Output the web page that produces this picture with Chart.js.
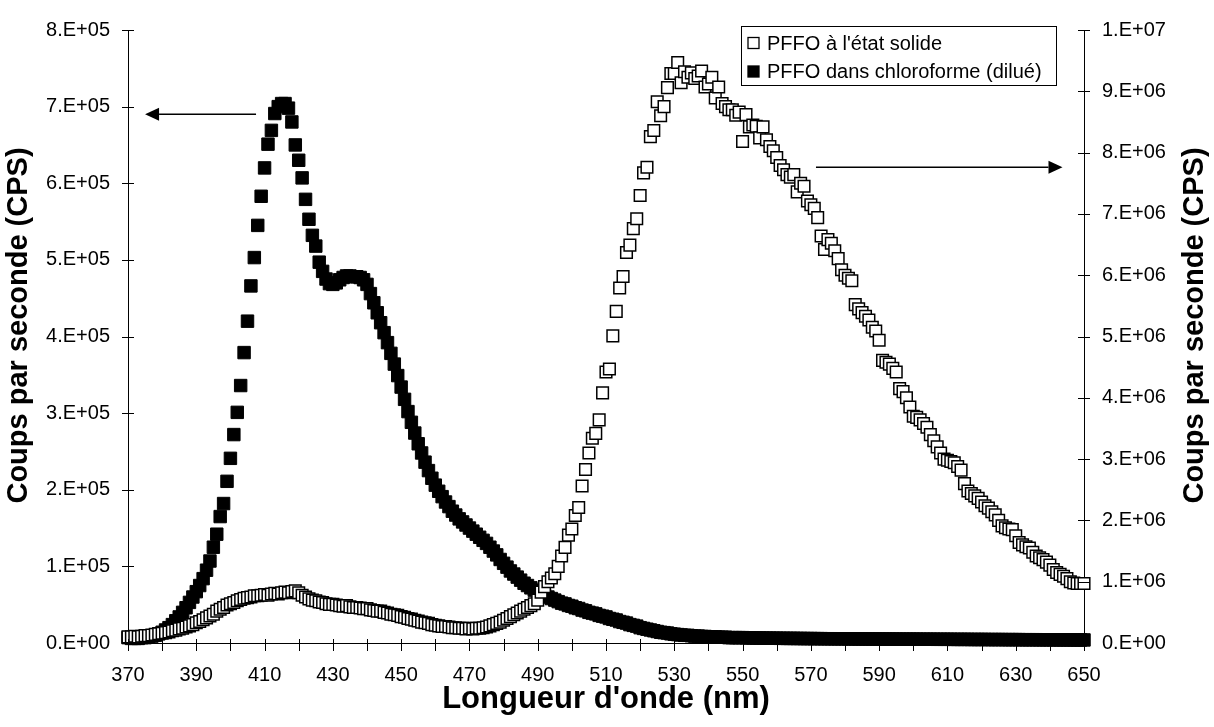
<!DOCTYPE html>
<html><head><meta charset="utf-8">
<script src="https://cdn.jsdelivr.net/npm/chart.js@4/dist/chart.umd.min.js"></script>
<style>html,body{margin:0;padding:0;background:#fff}canvas{display:block}</style>
</head><body>
<canvas id="c" width="1214" height="727" style="width:1214px;height:727px"></canvas>
<script>
// ---------- data ----------
const wavelengths = [370,371,372,373,374,375,376,377,378,379,380,381,382,383,384,385,386,387,388,389,390,391,392,393,394,395,396,397,398,399,400,401,402,403,404,405,406,407,408,409,410,411,412,413,414,415,416,417,418,419,420,421,422,423,424,425,426,427,428,429,430,431,432,433,434,435,436,437,438,439,440,441,442,443,444,445,446,447,448,449,450,451,452,453,454,455,456,457,458,459,460,461,462,463,464,465,466,467,468,469,470,471,472,473,474,475,476,477,478,479,480,481,482,483,484,485,486,487,488,489,490,491,492,493,494,495,496,497,498,499,500,501,502,503,504,505,506,507,508,509,510,511,512,513,514,515,516,517,518,519,520,521,522,523,524,525,526,527,528,529,530,531,532,533,534,535,536,537,538,539,540,541,542,543,544,545,546,547,548,549,550,551,552,553,554,555,556,557,558,559,560,561,562,563,564,565,566,567,568,569,570,571,572,573,574,575,576,577,578,579,580,581,582,583,584,585,586,587,588,589,590,591,592,593,594,595,596,597,598,599,600,601,602,603,604,605,606,607,608,609,610,611,612,613,614,615,616,617,618,619,620,621,622,623,624,625,626,627,628,629,630,631,632,633,634,635,636,637,638,639,640,641,642,643,644,645,646,647,648,649,650];

// PFFO à l'état solide (right axis, CPS)
const solidCps = [
0.10e6,0.10e6,0.11e6,0.10e6,0.11e6,0.12e6,0.12e6,0.13e6,0.14e6,0.15e6,
0.16e6,0.17e6,0.18e6,0.20e6,0.21e6,0.23e6,0.24e6,0.26e6,0.28e6,0.30e6,
0.33e6,0.35e6,0.38e6,0.41e6,0.44e6,0.47e6,0.52e6,0.55e6,0.58e6,0.62e6,
0.64e6,0.66e6,0.69e6,0.71e6,0.73e6,0.74e6,0.75e6,0.77e6,0.77e6,0.78e6,
0.79e6,0.78e6,0.80e6,0.81e6,0.80e6,0.82e6,0.83e6,0.82e6,0.84e6,0.85e6,
0.82e6,0.78e6,0.75e6,0.72e6,0.70e6,0.69e6,0.67e6,0.66e6,0.64e6,0.63e6,
0.63e6,0.62e6,0.61e6,0.60e6,0.61e6,0.59e6,0.58e6,0.58e6,0.57e6,0.56e6,
0.56e6,0.54e6,0.53e6,0.52e6,0.52e6,0.50e6,0.49e6,0.47e6,0.46e6,0.45e6,
0.43e6,0.42e6,0.40e6,0.39e6,0.37e6,0.36e6,0.34e6,0.33e6,0.32e6,0.30e6,
0.29e6,0.28e6,0.27e6,0.27e6,0.26e6,0.25e6,0.25e6,0.24e6,0.24e6,0.23e6,
0.24e6,0.23e6,0.24e6,0.24e6,0.25e6,0.26e6,0.28e6,0.30e6,0.32e6,0.34e6,
0.37e6,0.40e6,0.43e6,0.46e6,0.49e6,0.52e6,0.55e6,0.58e6,0.61e6,0.64e6,
0.70e6,0.83e6,0.92e6,1.00e6,1.06e6,1.13e6,1.25e6,1.42e6,1.56e6,1.76e6,
1.86e6,2.08e6,2.21e6,2.56e6,2.83e6,3.10e6,3.34e6,3.42e6,3.64e6,4.08e6,
4.42e6,4.47e6,5.01e6,5.41e6,5.79e6,5.98e6,6.37e6,6.49e6,6.76e6,6.92e6,
7.30e6,7.67e6,7.76e6,8.26e6,8.36e6,8.83e6,8.60e6,8.75e6,9.06e6,9.29e6,
9.29e6,9.47e6,9.14e6,9.32e6,9.23e6,9.30e6,9.21e6,9.25e6,9.33e6,9.07e6,
9.12e6,9.23e6,8.89e6,9.07e6,8.80e6,8.75e6,8.70e6,8.70e6,8.61e6,8.66e6,
8.18e6,8.62e6,8.42e6,8.45e6,8.43e6,8.24e6,8.42e6,8.21e6,8.10e6,8.03e6,
7.92e6,7.79e6,7.72e6,7.64e6,7.60e6,7.64e6,7.36e6,7.50e6,7.45e6,7.21e6,
7.15e6,7.09e6,6.94e6,6.64e6,6.42e6,6.58e6,6.52e6,6.40e6,6.27e6,6.09e6,
6.00e6,5.95e6,5.91e6,5.52e6,5.45e6,5.39e6,5.33e6,5.27e6,5.15e6,5.09e6,
4.94e6,4.61e6,4.58e6,4.55e6,4.48e6,4.42e6,4.15e6,4.10e6,4.00e6,3.85e6,
3.70e6,3.68e6,3.64e6,3.58e6,3.52e6,3.40e6,3.30e6,3.20e6,3.10e6,3.00e6,
2.98e6,2.96e6,2.94e6,2.88e6,2.82e6,2.60e6,2.48e6,2.44e6,2.40e6,2.36e6,
2.30e6,2.24e6,2.20e6,2.14e6,2.09e6,2.00e6,1.91e6,1.88e6,1.86e6,1.85e6,
1.75e6,1.64e6,1.60e6,1.57e6,1.55e6,1.48e6,1.42e6,1.39e6,1.36e6,1.32e6,
1.27e6,1.20e6,1.15e6,1.12e6,1.09e6,1.05e6,1.00e6,0.98e6,0.97e6,0.97e6,0.97e6];

// PFFO dans chloroforme (dilué) (left axis, CPS)
const chloroformCps = [
0.07e5,0.06e5,0.06e5,0.06e5,0.07e5,0.07e5,0.08e5,0.09e5,0.10e5,0.12e5,
0.14e5,0.17e5,0.20e5,0.24e5,0.29e5,0.34e5,0.40e5,0.46e5,0.53e5,0.60e5,
0.67e5,0.75e5,0.84e5,0.95e5,1.07e5,1.25e5,1.42e5,1.65e5,1.82e5,2.11e5,
2.41e5,2.72e5,3.01e5,3.36e5,3.79e5,4.20e5,4.66e5,5.03e5,5.45e5,5.83e5,
6.20e5,6.51e5,6.69e5,6.91e5,7.00e5,7.04e5,7.04e5,6.98e5,6.80e5,6.50e5,
6.30e5,6.07e5,5.79e5,5.53e5,5.32e5,5.18e5,4.97e5,4.85e5,4.75e5,4.69e5,
4.68e5,4.70e5,4.74e5,4.77e5,4.79e5,4.79e5,4.78e5,4.78e5,4.77e5,4.74e5,
4.68e5,4.56e5,4.44e5,4.31e5,4.18e5,4.05e5,3.92e5,3.78e5,3.64e5,3.49e5,
3.34e5,3.18e5,3.02e5,2.88e5,2.74e5,2.60e5,2.48e5,2.36e5,2.25e5,2.15e5,
2.06e5,1.98e5,1.91e5,1.84e5,1.78e5,1.72e5,1.67e5,1.62e5,1.58e5,1.54e5,
1.50e5,1.46e5,1.42e5,1.38e5,1.34e5,1.30e5,1.25e5,1.20e5,1.15e5,1.09e5,
1.04e5,0.99e5,0.94e5,0.90e5,0.86e5,0.82e5,0.78e5,0.75e5,0.72e5,0.69e5,
0.66e5,0.64e5,0.62e5,0.60e5,0.58e5,0.56e5,0.54e5,0.52e5,0.51e5,0.49e5,
0.48e5,0.46e5,0.45e5,0.43e5,0.42e5,0.40e5,0.39e5,0.38e5,0.36e5,0.35e5,
0.34e5,0.32e5,0.31e5,0.30e5,0.28e5,0.27e5,0.26e5,0.24e5,0.23e5,0.22e5,
0.20e5,0.19e5,0.18e5,0.17e5,0.16e5,0.15e5,0.14e5,0.135e5,0.13e5,0.12e5,
0.115e5,0.11e5,0.105e5,0.10e5,0.10e5,0.095e5,0.09e5,0.09e5,0.085e5,0.085e5,
0.08e5,0.08e5,0.08e5,0.075e5,0.075e5,0.075e5,0.07e5,0.07e5,0.07e5,0.07e5,
0.07e5,0.068e5,0.067e5,0.066e5,0.065e5,0.065e5,0.064e5,0.063e5,0.063e5,0.062e5,
0.062e5,0.061e5,0.061e5,0.06e5,0.06e5,0.06e5,0.059e5,0.059e5,0.058e5,0.058e5,
0.058e5,0.057e5,0.057e5,0.057e5,0.056e5,0.056e5,0.056e5,0.055e5,0.055e5,0.055e5,
0.055e5,0.054e5,0.054e5,0.054e5,0.053e5,0.053e5,0.053e5,0.053e5,0.052e5,0.052e5,
0.052e5,0.052e5,0.051e5,0.051e5,0.051e5,0.051e5,0.05e5,0.05e5,0.05e5,0.05e5,
0.05e5,0.05e5,0.049e5,0.049e5,0.049e5,0.049e5,0.049e5,0.048e5,0.048e5,0.048e5,
0.048e5,0.048e5,0.047e5,0.047e5,0.047e5,0.047e5,0.047e5,0.046e5,0.046e5,0.046e5,
0.046e5,0.046e5,0.045e5,0.045e5,0.045e5,0.045e5,0.045e5,0.044e5,0.044e5,0.044e5,
0.044e5,0.044e5,0.043e5,0.043e5,0.043e5,0.043e5,0.043e5,0.042e5,0.042e5,0.042e5,
0.042e5,0.042e5,0.041e5,0.041e5,0.041e5,0.041e5,0.041e5,0.04e5,0.04e5,0.04e5,0.04e5];

const xTickLabels = ['370','390','410','430','450','470','490','510','530','550','570','590','610','630','650'];
const leftTickLabels = ['0.E+00','1.E+05','2.E+05','3.E+05','4.E+05','5.E+05','6.E+05','7.E+05','8.E+05'];
const rightTickLabels = ['0.E+00','1.E+06','2.E+06','3.E+06','4.E+06','5.E+06','6.E+06','7.E+06','8.E+06','9.E+06','1.E+07'];
const seriesLabels = ["PFFO à l'état solide", 'PFFO dans chloroforme (dilué)'];
const xTitle = "Longueur d'onde (nm)";
const yTitle = 'Coups par seconde (CPS)';

// annotation arrows (in data coordinates)
const arrowNotes = [
  {scale:'y',  from:407.5, to:375,   at:6.9e5},
  {scale:'y1', from:571.5, to:643.7, at:7.76e6}
];

// ---------- chart ----------
const FONT = '"Liberation Sans", Arial, sans-serif';
Chart.defaults.font.family = FONT;
Chart.defaults.color = '#000';

const toPoints = (ys) => wavelengths.map((w, i) => ({x: w, y: ys[i]}));

const decor = {
  id: 'decor',
  afterDraw(chart) {
    const ctx = chart.ctx, ca = chart.chartArea;
    const sx = chart.scales.x, sy = chart.scales.y, sy1 = chart.scales.y1;
    ctx.save();
    // crossing tick marks
    ctx.strokeStyle = '#000'; ctx.lineWidth = 1;
    ctx.beginPath();
    sx.ticks.forEach(t => { const p = Math.round(sx.getPixelForValue(t.value)) + 0.5; ctx.moveTo(p, ca.bottom - 4); ctx.lineTo(p, ca.bottom + 8); });
    sy.ticks.forEach(t => { const p = Math.round(sy.getPixelForValue(t.value)) + 0.5; ctx.moveTo(ca.left - 6, p); ctx.lineTo(ca.left + 6, p); });
    sy1.ticks.forEach(t => { const p = Math.round(sy1.getPixelForValue(t.value)) + 0.5; ctx.moveTo(ca.right - 6, p); ctx.lineTo(ca.right + 6, p); });
    ctx.stroke();

    // arrows
    ctx.fillStyle = '#000'; ctx.lineWidth = 1.6;
    arrowNotes.forEach(a => {
      const ys = chart.scales[a.scale];
      const x1 = sx.getPixelForValue(a.from), x2 = sx.getPixelForValue(a.to), y = ys.getPixelForValue(a.at);
      const dir = Math.sign(x2 - x1), head = 14;
      ctx.beginPath(); ctx.moveTo(x1, y); ctx.lineTo(x2 - dir * head, y); ctx.stroke();
      ctx.beginPath(); ctx.moveTo(x2, y); ctx.lineTo(x2 - dir * head, y - 6.5); ctx.lineTo(x2 - dir * head, y + 6.5); ctx.closePath(); ctx.fill();
    });

    // axis titles
    ctx.textAlign = 'center'; ctx.textBaseline = 'middle'; ctx.fillStyle = '#000';
    ctx.font = 'bold 31px ' + FONT;
    ctx.fillText(xTitle, (ca.left + ca.right) / 2, 699);
    ctx.font = 'bold 29px ' + FONT;
    [19, 1195].forEach(cx => {
      ctx.save(); ctx.translate(cx, (ca.top + ca.bottom) / 2 - 11); ctx.rotate(-Math.PI / 2);
      ctx.fillText(yTitle, 0, 0); ctx.restore();
    });

    // legend
    const lx = 741, ly = 26, lw = 315, lh = 59;
    ctx.fillStyle = '#fff'; ctx.fillRect(lx, ly, lw, lh);
    ctx.strokeStyle = '#000'; ctx.lineWidth = 1;
    ctx.strokeRect(lx + 0.5, ly + 0.5, lw, lh);
    ctx.font = '20px ' + FONT; ctx.textAlign = 'left'; ctx.textBaseline = 'middle';
    chart.data.datasets.forEach((ds, i) => {
      const cy = ly + 17 + i * 28.5, mx = lx + 7;
      ctx.fillStyle = ds.backgroundColor; ctx.strokeStyle = '#000'; ctx.lineWidth = 1.3;
      ctx.fillRect(mx, cy - 5.5, 11, 11); ctx.strokeRect(mx, cy - 5.5, 11, 11);
      ctx.fillStyle = '#000';
      ctx.fillText(ds.label, lx + 26, cy + 1);
    });
    ctx.restore();
  }
};

new Chart(document.getElementById('c'), {
  type: 'scatter',
  data: {
    datasets: [
      { label: seriesLabels[0], data: toPoints(solidCps), yAxisID: 'y1',
        pointStyle: 'rect', pointRadius: 8.2, pointHoverRadius: 8.2,
        backgroundColor: '#fff', borderColor: '#000', borderWidth: 1.5, showLine: false, clip: false },
      { label: seriesLabels[1], data: toPoints(chloroformCps), yAxisID: 'y',
        pointStyle: 'rect', pointRadius: 8.8, pointHoverRadius: 8.8,
        backgroundColor: '#000', borderColor: '#000', borderWidth: 1, showLine: false, clip: false }
    ]
  },
  options: {
    responsive: false, animation: false, devicePixelRatio: 1,
    layout: { padding: { top: 24, left: 0, right: 0, bottom: 0 } },
    plugins: { legend: { display: false }, tooltip: { enabled: false } },
    events: [],
    scales: {
      x: {
        type: 'linear', min: 370, max: 650,
        grid: { display: false, drawTicks: false },
        border: { display: true, color: '#000', width: 1 },
        ticks: { stepSize: 10, autoSkip: false, maxRotation: 0, padding: 20,
          font: { size: 20 }, color: '#000',
          callback: (v, i) => (i % 2 === 0 ? xTickLabels[i / 2] : '') },
        afterFit: s => { s.height = 84; }
      },
      y: {
        position: 'left', min: 0, max: 8e5,
        grid: { display: false, drawTicks: false },
        border: { display: true, color: '#000', width: 1 },
        ticks: { stepSize: 1e5, padding: 18, font: { size: 20 }, color: '#000',
          callback: (v, i) => leftTickLabels[i] },
        afterFit: s => { s.width = 128; }
      },
      y1: {
        position: 'right', min: 0, max: 1e7,
        grid: { display: false, drawTicks: false },
        border: { display: true, color: '#000', width: 1 },
        ticks: { stepSize: 1e6, padding: 18, font: { size: 20 }, color: '#000',
          callback: (v, i) => rightTickLabels[i] },
        afterFit: s => { s.width = 130; }
      }
    }
  },
  plugins: [decor]
});
</script>
</body></html>
